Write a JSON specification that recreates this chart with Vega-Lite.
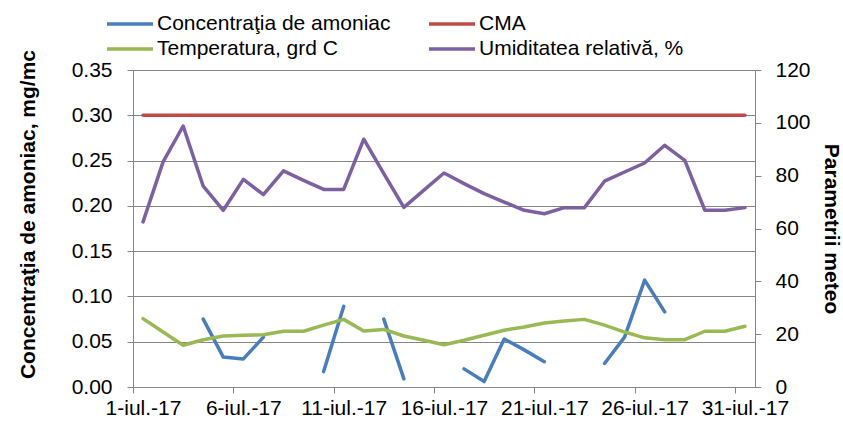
{
  "$schema": "https://vega.github.io/schema/vega-lite/v6.json",
  "width": 622,
  "height": 317,
  "autosize": {"type": "none"},
  "padding": {"left": 133, "top": 70, "right": 88, "bottom": 34},
  "data": {"values": [
    {"day": 1, "series": "Concentraţia de amoniac", "value": null},
    {"day": 2, "series": "Concentraţia de amoniac", "value": null},
    {"day": 3, "series": "Concentraţia de amoniac", "value": null},
    {"day": 4, "series": "Concentraţia de amoniac", "value": 0.075},
    {"day": 5, "series": "Concentraţia de amoniac", "value": 0.033},
    {"day": 6, "series": "Concentraţia de amoniac", "value": 0.031},
    {"day": 7, "series": "Concentraţia de amoniac", "value": 0.055},
    {"day": 8, "series": "Concentraţia de amoniac", "value": null},
    {"day": 9, "series": "Concentraţia de amoniac", "value": null},
    {"day": 10, "series": "Concentraţia de amoniac", "value": 0.017},
    {"day": 11, "series": "Concentraţia de amoniac", "value": 0.089},
    {"day": 12, "series": "Concentraţia de amoniac", "value": null},
    {"day": 13, "series": "Concentraţia de amoniac", "value": 0.075},
    {"day": 14, "series": "Concentraţia de amoniac", "value": 0.009},
    {"day": 15, "series": "Concentraţia de amoniac", "value": null},
    {"day": 16, "series": "Concentraţia de amoniac", "value": null},
    {"day": 17, "series": "Concentraţia de amoniac", "value": 0.020},
    {"day": 18, "series": "Concentraţia de amoniac", "value": 0.006},
    {"day": 19, "series": "Concentraţia de amoniac", "value": 0.053},
    {"day": 20, "series": "Concentraţia de amoniac", "value": 0.041},
    {"day": 21, "series": "Concentraţia de amoniac", "value": 0.028},
    {"day": 22, "series": "Concentraţia de amoniac", "value": null},
    {"day": 23, "series": "Concentraţia de amoniac", "value": null},
    {"day": 24, "series": "Concentraţia de amoniac", "value": 0.026},
    {"day": 25, "series": "Concentraţia de amoniac", "value": 0.055},
    {"day": 26, "series": "Concentraţia de amoniac", "value": 0.118},
    {"day": 27, "series": "Concentraţia de amoniac", "value": 0.083},
    {"day": 28, "series": "Concentraţia de amoniac", "value": null},
    {"day": 29, "series": "Concentraţia de amoniac", "value": null},
    {"day": 30, "series": "Concentraţia de amoniac", "value": null},
    {"day": 31, "series": "Concentraţia de amoniac", "value": null},
    {"day": 1, "series": "CMA", "value": 0.3},
    {"day": 2, "series": "CMA", "value": 0.3},
    {"day": 3, "series": "CMA", "value": 0.3},
    {"day": 4, "series": "CMA", "value": 0.3},
    {"day": 5, "series": "CMA", "value": 0.3},
    {"day": 6, "series": "CMA", "value": 0.3},
    {"day": 7, "series": "CMA", "value": 0.3},
    {"day": 8, "series": "CMA", "value": 0.3},
    {"day": 9, "series": "CMA", "value": 0.3},
    {"day": 10, "series": "CMA", "value": 0.3},
    {"day": 11, "series": "CMA", "value": 0.3},
    {"day": 12, "series": "CMA", "value": 0.3},
    {"day": 13, "series": "CMA", "value": 0.3},
    {"day": 14, "series": "CMA", "value": 0.3},
    {"day": 15, "series": "CMA", "value": 0.3},
    {"day": 16, "series": "CMA", "value": 0.3},
    {"day": 17, "series": "CMA", "value": 0.3},
    {"day": 18, "series": "CMA", "value": 0.3},
    {"day": 19, "series": "CMA", "value": 0.3},
    {"day": 20, "series": "CMA", "value": 0.3},
    {"day": 21, "series": "CMA", "value": 0.3},
    {"day": 22, "series": "CMA", "value": 0.3},
    {"day": 23, "series": "CMA", "value": 0.3},
    {"day": 24, "series": "CMA", "value": 0.3},
    {"day": 25, "series": "CMA", "value": 0.3},
    {"day": 26, "series": "CMA", "value": 0.3},
    {"day": 27, "series": "CMA", "value": 0.3},
    {"day": 28, "series": "CMA", "value": 0.3},
    {"day": 29, "series": "CMA", "value": 0.3},
    {"day": 30, "series": "CMA", "value": 0.3},
    {"day": 31, "series": "CMA", "value": 0.3},
    {"day": 1, "series": "Temperatura, grd C", "value": 25.9},
    {"day": 2, "series": "Temperatura, grd C", "value": 20.8},
    {"day": 3, "series": "Temperatura, grd C", "value": 15.8},
    {"day": 4, "series": "Temperatura, grd C", "value": 17.9},
    {"day": 5, "series": "Temperatura, grd C", "value": 19.3},
    {"day": 6, "series": "Temperatura, grd C", "value": 19.6},
    {"day": 7, "series": "Temperatura, grd C", "value": 19.8},
    {"day": 8, "series": "Temperatura, grd C", "value": 21.1},
    {"day": 9, "series": "Temperatura, grd C", "value": 21.1},
    {"day": 10, "series": "Temperatura, grd C", "value": 23.4},
    {"day": 11, "series": "Temperatura, grd C", "value": 25.6},
    {"day": 12, "series": "Temperatura, grd C", "value": 21.2},
    {"day": 13, "series": "Temperatura, grd C", "value": 21.8},
    {"day": 14, "series": "Temperatura, grd C", "value": 19.3},
    {"day": 15, "series": "Temperatura, grd C", "value": 17.7},
    {"day": 16, "series": "Temperatura, grd C", "value": 16.0},
    {"day": 17, "series": "Temperatura, grd C", "value": 17.7},
    {"day": 18, "series": "Temperatura, grd C", "value": 19.6},
    {"day": 19, "series": "Temperatura, grd C", "value": 21.5},
    {"day": 20, "series": "Temperatura, grd C", "value": 22.7},
    {"day": 21, "series": "Temperatura, grd C", "value": 24.2},
    {"day": 22, "series": "Temperatura, grd C", "value": 25.0},
    {"day": 23, "series": "Temperatura, grd C", "value": 25.6},
    {"day": 24, "series": "Temperatura, grd C", "value": 23.4},
    {"day": 25, "series": "Temperatura, grd C", "value": 20.8},
    {"day": 26, "series": "Temperatura, grd C", "value": 18.6},
    {"day": 27, "series": "Temperatura, grd C", "value": 17.9},
    {"day": 28, "series": "Temperatura, grd C", "value": 17.9},
    {"day": 29, "series": "Temperatura, grd C", "value": 21.1},
    {"day": 30, "series": "Temperatura, grd C", "value": 21.1},
    {"day": 31, "series": "Temperatura, grd C", "value": 23.0},
    {"day": 1, "series": "Umiditatea relativă, %", "value": 62.5},
    {"day": 2, "series": "Umiditatea relativă, %", "value": 85.2},
    {"day": 3, "series": "Umiditatea relativă, %", "value": 98.8},
    {"day": 4, "series": "Umiditatea relativă, %", "value": 76.0},
    {"day": 5, "series": "Umiditatea relativă, %", "value": 66.9},
    {"day": 6, "series": "Umiditatea relativă, %", "value": 78.6},
    {"day": 7, "series": "Umiditatea relativă, %", "value": 72.8},
    {"day": 8, "series": "Umiditatea relativă, %", "value": 81.8},
    {"day": 9, "series": "Umiditatea relativă, %", "value": 78.2},
    {"day": 10, "series": "Umiditatea relativă, %", "value": 74.8},
    {"day": 11, "series": "Umiditatea relativă, %", "value": 74.8},
    {"day": 12, "series": "Umiditatea relativă, %", "value": 93.8},
    {"day": 13, "series": "Umiditatea relativă, %", "value": 80.8},
    {"day": 14, "series": "Umiditatea relativă, %", "value": 68.0},
    {"day": 15, "series": "Umiditatea relativă, %", "value": 74.5},
    {"day": 16, "series": "Umiditatea relativă, %", "value": 81.0},
    {"day": 17, "series": "Umiditatea relativă, %", "value": 77.0},
    {"day": 18, "series": "Umiditatea relativă, %", "value": 73.2},
    {"day": 19, "series": "Umiditatea relativă, %", "value": 70.0},
    {"day": 20, "series": "Umiditatea relativă, %", "value": 66.9},
    {"day": 21, "series": "Umiditatea relativă, %", "value": 65.6},
    {"day": 22, "series": "Umiditatea relativă, %", "value": 67.9},
    {"day": 23, "series": "Umiditatea relativă, %", "value": 67.9},
    {"day": 24, "series": "Umiditatea relativă, %", "value": 77.9},
    {"day": 25, "series": "Umiditatea relativă, %", "value": 81.4},
    {"day": 26, "series": "Umiditatea relativă, %", "value": 84.8},
    {"day": 27, "series": "Umiditatea relativă, %", "value": 91.5},
    {"day": 28, "series": "Umiditatea relativă, %", "value": 85.8},
    {"day": 29, "series": "Umiditatea relativă, %", "value": 66.9},
    {"day": 30, "series": "Umiditatea relativă, %", "value": 66.9},
    {"day": 31, "series": "Umiditatea relativă, %", "value": 67.9}
  ]},
  "config": {
    "view": {"stroke": null},
    "font": "Liberation Sans",
    "axis": {
      "labelFont": "Liberation Sans", "labelFontSize": 21, "labelColor": "#000000",
      "titleFont": "Liberation Sans", "titleFontSize": 21, "titleFontWeight": "bold", "titleColor": "#000000",
      "domainColor": "#868686", "tickColor": "#868686", "gridColor": "#868686",
      "tickSize": 6, "domainWidth": 1, "tickWidth": 1, "gridWidth": 1
    },
    "legend": {
      "labelFont": "Liberation Sans", "labelFontSize": 21, "labelColor": "#000000"
    }
  },
  "encoding": {
    "x": {
      "field": "day", "type": "quantitative",
      "scale": {"domain": [0.5, 31.5], "nice": false, "zero": false},
      "axis": {
        "values": [0.5, 5.5, 10.5, 15.5, 20.5, 25.5, 30.5],
        "labelExpr": "(datum.value + 0.5) + '-iul.-17'",
        "labelOffset": 10, "labelFlush": false, "labelOverlap": false,
        "labelPadding": 4, "grid": false, "title": null
      }
    },
    "color": {
      "field": "series", "type": "nominal",
      "scale": {
        "domain": ["Concentraţia de amoniac", "CMA", "Temperatura, grd C", "Umiditatea relativă, %"],
        "range": ["#4A7EBB", "#BE4B48", "#98B954", "#7D60A0"]
      },
      "legend": {
        "title": null, "orient": "none", "legendX": -15, "legendY": -58,
        "columns": 2, "direction": "horizontal",
        "symbolType": "M-2.3,0H2.3", "symbolSize": 400, "symbolStrokeWidth": 3.5,
        "labelOffset": 15, "columnPadding": 31, "rowPadding": 3, "labelLimit": 400
      }
    }
  },
  "layer": [
    {
      "transform": [{"filter": {"field": "series", "oneOf": ["Concentraţia de amoniac", "CMA"]}}],
      "mark": {"type": "line", "strokeWidth": 3.5, "strokeCap": "round", "strokeJoin": "round", "invalid": "break-paths-show-domains"},
      "encoding": {
        "y": {
          "field": "value", "type": "quantitative",
          "scale": {"domain": [0, 0.35], "nice": false, "zero": true},
          "axis": {
            "orient": "left", "title": "Concentraţia de amoniac, mg/mc",
            "values": [0, 0.05, 0.1, 0.15, 0.2, 0.25, 0.3, 0.35],
            "format": ".2f", "grid": true, "labelPadding": 15, "titlePadding": 33, "titleY": 144
          }
        }
      }
    },
    {
      "transform": [{"filter": {"field": "series", "oneOf": ["Temperatura, grd C", "Umiditatea relativă, %"]}}],
      "mark": {"type": "line", "strokeWidth": 3.5, "strokeCap": "round", "strokeJoin": "round"},
      "encoding": {
        "y": {
          "field": "value", "type": "quantitative",
          "scale": {"domain": [0, 120], "nice": false, "zero": true},
          "axis": {
            "orient": "right", "title": "Parametrii meteo",
            "values": [0, 20, 40, 60, 80, 100, 120],
            "grid": false, "labelPadding": 14, "titlePadding": 10
          }
        }
      }
    }
  ],
  "resolve": {"scale": {"y": "independent"}, "axis": {"y": "independent"}}
}
